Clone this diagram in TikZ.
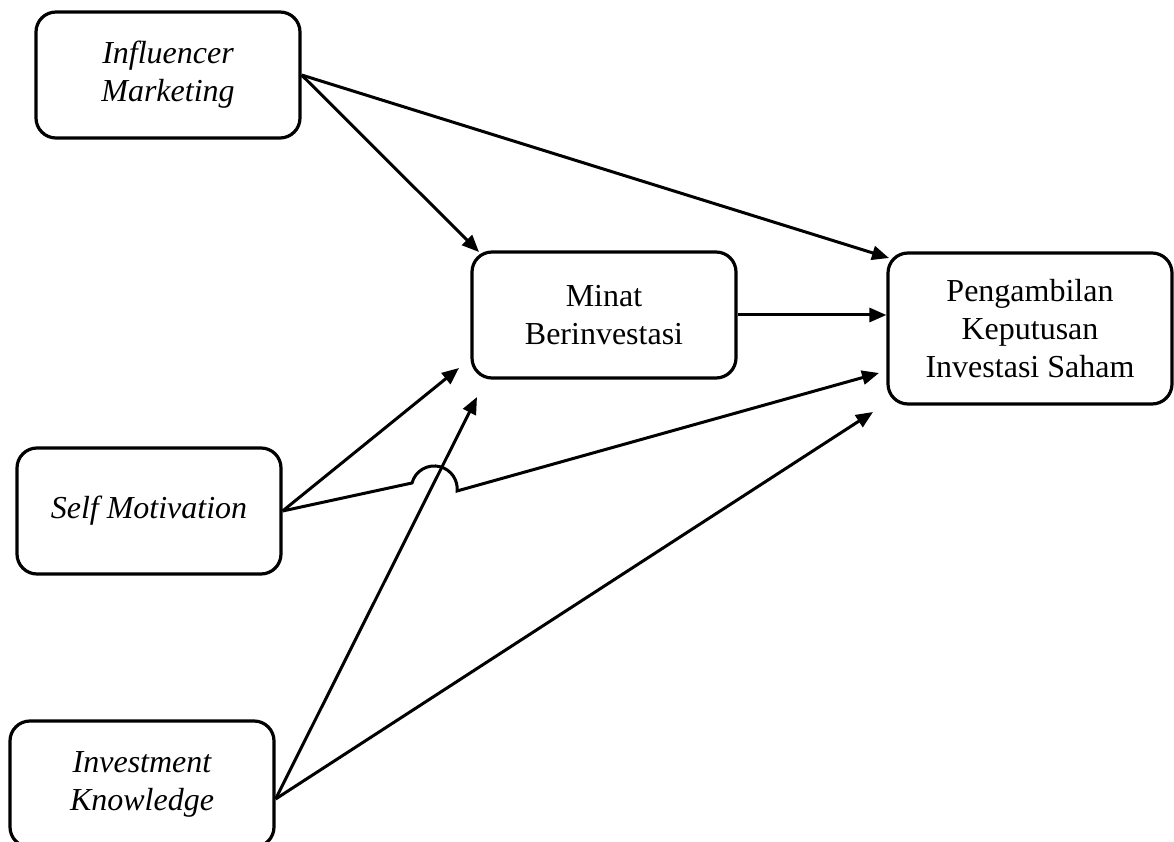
\documentclass[tikz,border=0pt]{standalone}
\usepackage{fontspec}
\setmainfont{Liberation Serif}
\usepackage{tikz}
\usetikzlibrary{arrows.meta,calc}
\tikzset{
  flow/.style={-{Triangle[length=17pt,width=14pt]},line width=3pt},
  varbox/.style={draw=black,line width=3.2pt,rounded corners=20pt,
                 minimum width=264pt,minimum height=126pt,align=center,
                 font=\fontsize{32}{38}\selectfont},
  exovar/.style={varbox,font=\fontsize{32}{38}\selectfont\itshape},
}

\begin{document}
\begin{tikzpicture}[x=1pt,y=1pt]
  \path[use as bounding box] (0,0) rectangle (1174,841);

  \node[exovar] (IM) at (168,766) {Influencer\\Marketing};
  \node[exovar] (SM) at (149,330) {Self Motivation};
  \node[exovar] (IK) at (142,57) {Investment\\Knowledge};
  \node[varbox] (MB) at (604,526) {Minat\\Berinvestasi};
  \node[varbox,minimum width=284pt,minimum height=151pt] (PK) at (1030,512.5)
    {Pengambilan\\Keputusan\\Investasi Saham};

  \coordinate (IKout) at ([yshift=-15pt]IK.east);
  \coordinate (toMBa) at (479,589);
  \coordinate (toMBb) at (459,473);
  \coordinate (toMBc) at (477,444);
  \coordinate (toPKa) at (889,583);
  \coordinate (toPKb) at (879,468);
  \coordinate (toPKc) at (873,429);
  \coordinate (hop) at (412,358);

  \draw[flow] (IM.east) -- (toMBa);
  \draw[flow] (IM.east) -- (toPKa);
  \draw[flow] (MB.east) -- (MB.east -| PK.west);
  \draw[flow] (SM.east) -- (toMBb);
  \draw[flow] (SM.east) -- (hop) arc[start angle=165,end angle=-5,radius=23] -- (toPKb);
  \draw[flow] (IKout) -- (toMBc);
  \draw[flow] (IKout) -- (toPKc);
\end{tikzpicture}
\end{document}
